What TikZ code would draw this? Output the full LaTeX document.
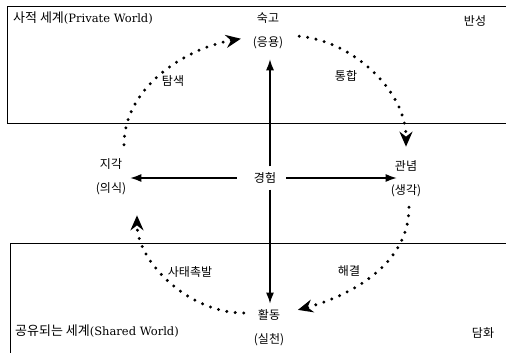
\documentclass[tikz,border=0pt]{standalone}
\usepackage{fontspec}
\setmainfont{Noto Sans CJK KR}
\newfontfamily\latinfont{DejaVu Serif}
\usetikzlibrary{arrows.meta}
\tikzset{
  lbl/.style={font=\fontsize{12}{24}\selectfont, align=center, inner sep=2pt},
  flow/.style={-{Latex[length=11pt,width=8pt]}, line width=1.4pt},
  cyc/.style={dash pattern=on 0pt off 8.5pt, line cap=round, line width=3.3pt, -{Stealth[length=15pt,width=13pt,inset=5pt]}}
}
\begin{document}
\begin{tikzpicture}[x=1pt,y=-1pt]
\useasboundingbox (0,0) rectangle (506,353);
\draw[line width=1pt] (506,7) -- (7,7) -- (7,123) -- (506,123);
\draw[line width=1pt] (506,243) -- (10,243) -- (10,353);
\node[lbl,anchor=west] (priv) at (11,18) {\fontsize{13}{15}\selectfont 사적 세계{\latinfont\fontsize{11.5}{14}\selectfont(Private World)}};
\node[lbl,anchor=west] (shar) at (13,331) {\fontsize{13}{15}\selectfont 공유되는 세계{\latinfont\fontsize{11.5}{14}\selectfont(Shared World)}};
\node[lbl] (ban) at (475,21) {반성};
\node[lbl] (dam) at (483,333) {담화};
\node[lbl] (suk) at (268,31) {숙고\\(응용)};
\node[lbl] (hwal) at (269,328) {활동\\(실천)};
\node[lbl] (jigak) at (111,177) {지각\\(의식)};
\node[lbl] (gwan) at (406,179) {관념\\(생각)};
\node[lbl] (gyeong) at (265,178) {경험};
\node[lbl] (tam) at (173,81) {탐색};
\node[lbl] (tong) at (346,76) {통합};
\node[lbl] (satae) at (190,272) {사태촉발};
\node[lbl] (hae) at (349,271) {해결};
% experience in the middle
\draw[flow,shorten <=4pt,shorten >=8pt] ([xshift=5pt]gyeong.north) -- ([xshift=5pt]gyeong.north |- suk.south);
\draw[flow,shorten <=4pt,shorten >=4pt] ([xshift=5pt]gyeong.south) -- ([xshift=5pt]gyeong.south |- hwal.north);
\draw[flow,shorten <=15pt,shorten >=2pt] (gyeong.west) -- (jigak.east |- gyeong.west);
\draw[flow,shorten <=8pt,shorten >=-8pt] (gyeong.east) -- (gwan.west |- gyeong.east);
% the cycle
\draw[cyc,shorten <=12pt,shorten >=10pt] ([xshift=13pt]jigak.north) to[out=90,in=190] ([yshift=-6pt]suk.west);
\draw[cyc,shorten <=14pt,shorten >=12pt] ([yshift=-4pt]suk.east) to[out=-5,in=90] (gwan.north);
\draw[cyc,shorten <=8pt,shorten >=12pt] ([xshift=3pt]gwan.south) to[out=-90,in=15] ([yshift=15pt]hwal.east);
\draw[cyc,shorten <=8pt,shorten >=18pt] ([yshift=15pt]hwal.west) to[out=180,in=-90] ([xshift=26pt]jigak.south);
\end{tikzpicture}
\end{document}
